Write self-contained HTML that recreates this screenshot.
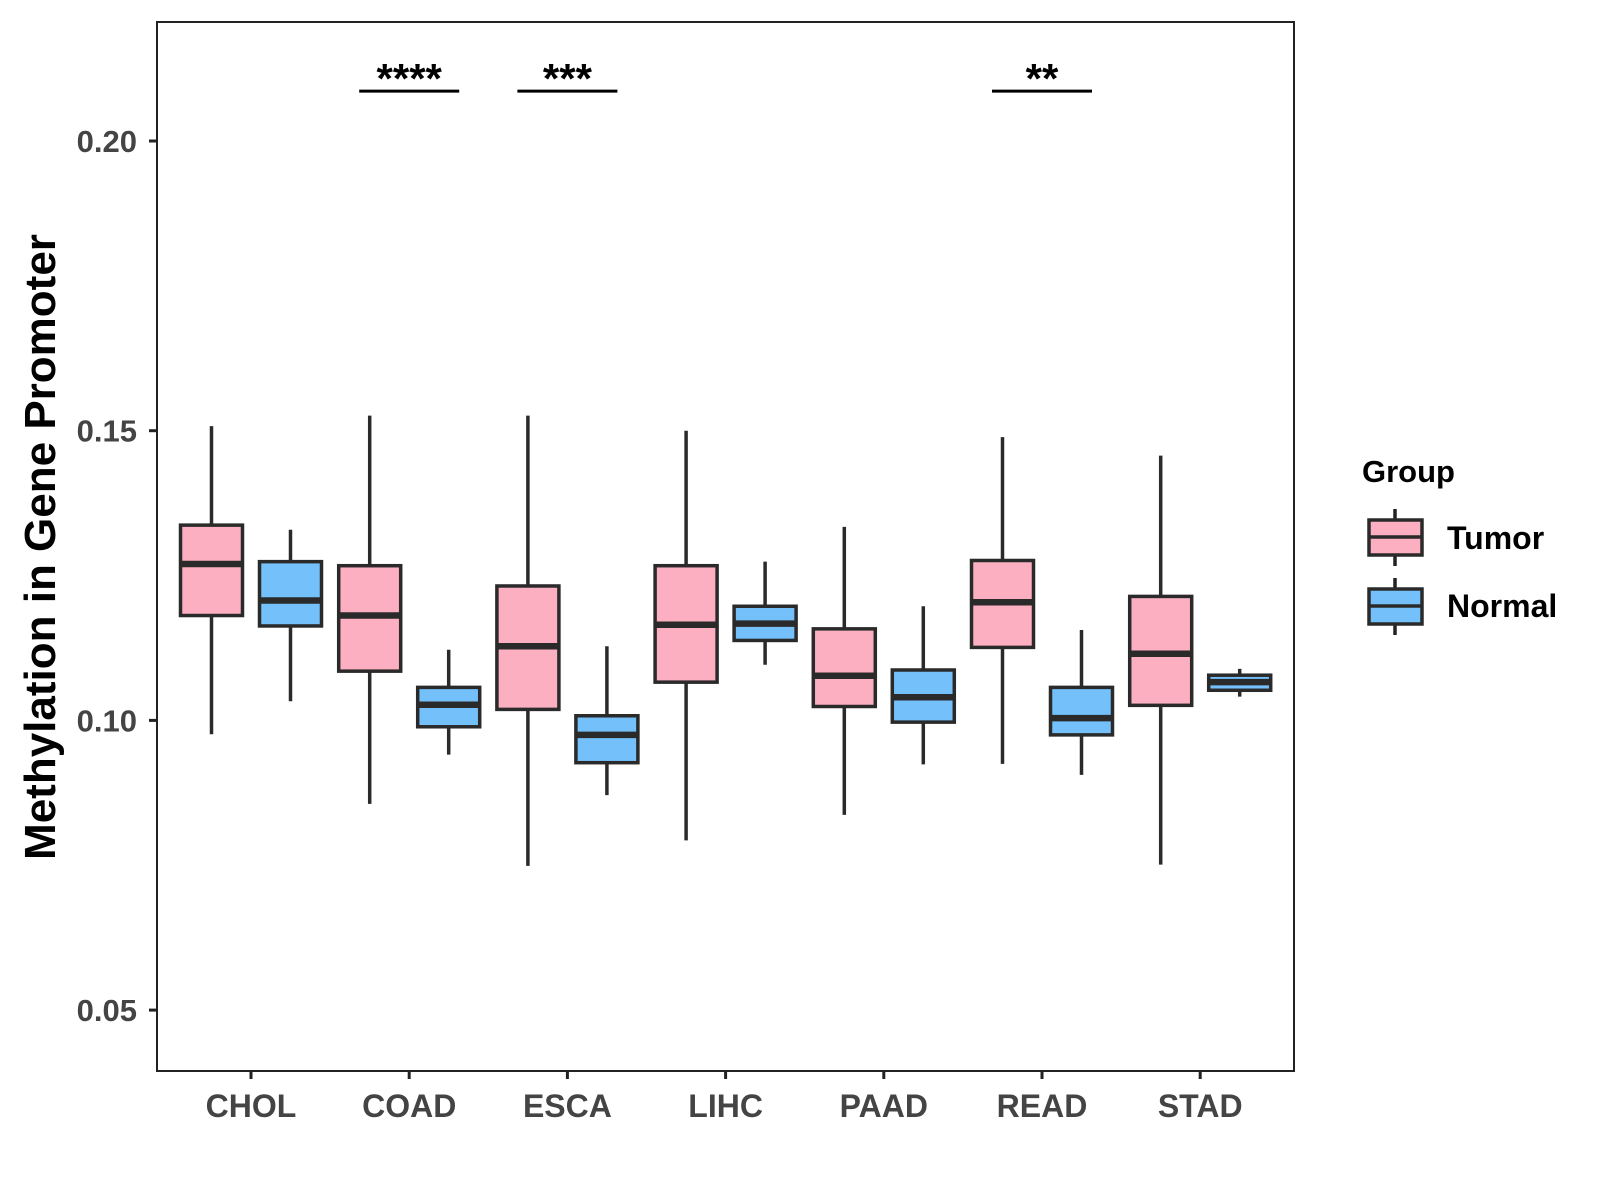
<!DOCTYPE html>
<html><head><meta charset="utf-8"><style>
html,body{margin:0;padding:0;background:#fff;}
svg{display:block;font-family:"Liberation Sans",sans-serif;font-weight:bold;}
</style></head><body>
<svg id="chart" width="1600" height="1200" viewBox="0 0 1600 1200">
<rect x="157" y="22" width="1137" height="1049" fill="#fff" stroke="#222" stroke-width="2"/>
<g id="marks"></g>
<text transform="translate(55,547) rotate(-90)" text-anchor="middle" font-size="44" fill="#000">Methylation in Gene Promoter</text>
<g>
<text x="1362" y="482" font-size="31" fill="#000">Group</text>
<g>
<line x1="1395" y1="509" x2="1395" y2="566" stroke="#222" stroke-width="3.5"/>
<rect x="1369" y="520" width="53" height="35" fill="#FCAFC0" stroke="#2a2a2a" stroke-width="3.5"/>
<line x1="1369" y1="537" x2="1422" y2="537" stroke="#2a2a2a" stroke-width="3.5"/>
<text x="1447" y="549" font-size="32" fill="#000">Tumor</text>
</g>
<g>
<line x1="1395" y1="578" x2="1395" y2="635" stroke="#222" stroke-width="3.5"/>
<rect x="1369" y="589" width="53" height="35" fill="#74C0FB" stroke="#2a2a2a" stroke-width="3.5"/>
<line x1="1369" y1="606" x2="1422" y2="606" stroke="#2a2a2a" stroke-width="3.5"/>
<text x="1447" y="617" font-size="32" fill="#000">Normal</text>
</g>
</g>
</svg>
<script>
const categories = ["CHOL","COAD","ESCA","LIHC","PAAD","READ","STAD"];
// [lowWhisker, Q1, median, Q3, highWhisker]
const tumor = [
 [0.0976,0.1181,0.1270,0.1337,0.1508],
 [0.0856,0.1085,0.1181,0.1267,0.1526],
 [0.0749,0.1019,0.1128,0.1232,0.1526],
 [0.0793,0.1066,0.1165,0.1267,0.1500],
 [0.0837,0.1024,0.1077,0.1158,0.1334],
 [0.0925,0.1126,0.1204,0.1276,0.1489],
 [0.0751,0.1026,0.1115,0.1214,0.1457]];
const normal = [
 [0.1033,0.1163,0.1207,0.1274,0.1329],
 [0.0941,0.0989,0.1027,0.1057,0.1122],
 [0.0871,0.0927,0.0975,0.1008,0.1128],
 [0.1096,0.1138,0.1167,0.1197,0.1274],
 [0.0924,0.0997,0.1040,0.1087,0.1197],
 [0.0906,0.0975,0.1004,0.1057,0.1156],
 [0.1041,0.1052,0.1066,0.1078,0.1089]];
const yTicks = [0.05,0.10,0.15,0.20];
const yTickLabels = ["0.05","0.10","0.15","0.20"];
const sigCategories = ["COAD","ESCA","READ"];
const sigLabels = ["****","***","**"];
const sigValue = 0.2086;

const NS="http://www.w3.org/2000/svg";
const g=document.getElementById('marks');
function y(v){return 141+(0.20-v)/0.05*289.7;}
function x(i){return 251+i*158.2;}
function mk(t,a,p){const e=document.createElementNS(NS,t);for(const k in a)e.setAttribute(k,a[k]);(p||g).appendChild(e);return e;}

yTicks.forEach((t,i)=>{
 const l=mk('line',{x1:149,x2:157,y1:y(t),y2:y(t),stroke:'#222','stroke-width':3});
 
 
 const tx=mk('text',{x:137,y:y(t)+11,'text-anchor':'end','font-size':31,fill:'#444'});
 tx.textContent=yTickLabels[i];
 
 
});
categories.forEach((c,i)=>{
 const l=mk('line',{x1:x(i),x2:x(i),y1:1071,y2:1079,stroke:'#222','stroke-width':3});
 
 
 const tx=mk('text',{x:x(i),y:1117,'text-anchor':'middle','font-size':32,fill:'#444'});
 tx.textContent=c;
 
 
});
function box(cx,d,fill,name){
 const grp=mk('g',{});
 
 
 const w=62;
 mk('line',{x1:cx,x2:cx,y1:y(d[4]),y2:y(d[0]),stroke:'#2a2a2a','stroke-width':3.5},grp);
 mk('rect',{x:cx-w/2,y:y(d[3]),width:w,height:y(d[1])-y(d[3]),fill:fill,stroke:'#2a2a2a','stroke-width':3.5},grp);
 mk('line',{x1:cx-w/2,x2:cx+w/2,y1:y(d[2]),y2:y(d[2]),stroke:'#2a2a2a','stroke-width':6.5},grp);
}
categories.forEach((c,i)=>{
 box(x(i)-39.5,tumor[i],'#FCAFC0','box-tumor-'+c.toLowerCase());
 box(x(i)+39.5,normal[i],'#74C0FB','box-normal-'+c.toLowerCase());
});
sigCategories.forEach((c,k)=>{
 const i=categories.indexOf(c);
 const l=mk('line',{x1:x(i)-50,x2:x(i)+50,y1:y(sigValue),y2:y(sigValue),stroke:'#000','stroke-width':3});
 
 
 const t=mk('text',{x:x(i),y:y(sigValue)+2,'text-anchor':'middle','font-size':42,fill:'#000'});
 t.textContent=sigLabels[k];
 
 
});
</script>
</body></html>
